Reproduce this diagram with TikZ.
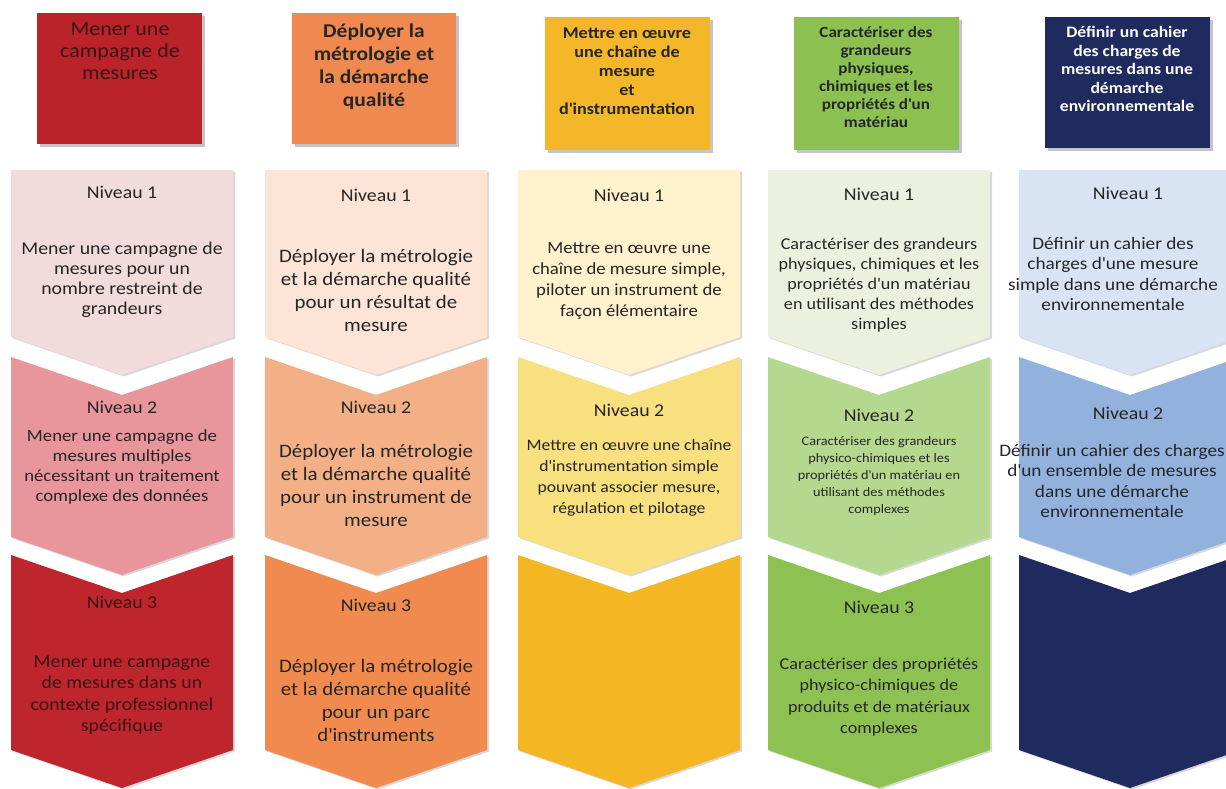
\documentclass[tikz,border=0pt]{standalone}
\usepackage{fontspec}
\setmainfont{Carlito}[FakeStretch=1.1]
\usetikzlibrary{shadows}

% column palettes: header, level 1, level 2, level 3
\definecolor{redH}{HTML}{B92329}
\definecolor{redA}{HTML}{F2DCDB}
\definecolor{redB}{HTML}{E8959B}
\definecolor{redC}{HTML}{BF252C}
\definecolor{orgH}{HTML}{F0894F}
\definecolor{orgA}{HTML}{FCE4D6}
\definecolor{orgB}{HTML}{F3AF85}
\definecolor{orgC}{HTML}{F08A4E}
\definecolor{yelH}{HTML}{F4B72A}
\definecolor{yelA}{HTML}{FFF2CC}
\definecolor{yelB}{HTML}{F9E07E}
\definecolor{yelC}{HTML}{F4B622}
\definecolor{grnH}{HTML}{8CC152}
\definecolor{grnA}{HTML}{EBF1DE}
\definecolor{grnB}{HTML}{B5D88F}
\definecolor{grnC}{HTML}{8DC253}
\definecolor{bluH}{HTML}{1F2A5E}
\definecolor{bluA}{HTML}{D8E3F3}
\definecolor{bluB}{HTML}{92B2DD}
\definecolor{bluC}{HTML}{1F2A5E}
\definecolor{ink}{HTML}{262626}
\definecolor{darkink}{HTML}{3A1416}

% straight apostrophe
\newcommand\ap{\textquotesingle}

% chevron with a flat top: left x, top y, bottom of the sides, colour
\newcommand\flatchevron[4]{%
  \fill[#4,block] (#1,#2) -- (#1+222,#2) -- (#1+222,#3) -- (#1+111,#3+38)
    -- (#1,#3) -- cycle;}
% chevron with a notched top
\newcommand\notchchevron[4]{%
  \fill[#4,block] (#1,#2) -- (#1+111,#2+38) -- (#1+222,#2) -- (#1+222,#3)
    -- (#1+111,#3+38) -- (#1,#3) -- cycle;}

\begin{document}
\begin{tikzpicture}[x=1pt,y=-1pt,
  header/.style={drop shadow={shadow xshift=3pt,shadow yshift=-3pt,opacity=.45}},
  block/.style={drop shadow={shadow xshift=2pt,shadow yshift=-1.5pt,opacity=.3}},
  lvl/.style={font=\fontsize{18}{20}\selectfont,text=ink,inner sep=0pt},
  body/.style={align=center,text=ink,inner sep=0pt},
  htext/.style={align=center,inner sep=0pt,font=\bfseries},
]
\fill[white] (0,0) rectangle (1226,789);
\useasboundingbox (0,0) rectangle (1226,789);
\clip (0,0) rectangle (1226,789);

% ---- headers
\fill[redH,header] (37,13) rectangle (202,144);
\fill[orgH,header] (292,13) rectangle (456,144);
\fill[yelH,header] (545,17) rectangle (710,150);
\fill[grnH,header] (794,17) rectangle (959,150);
\fill[bluH,header] (1045,17) rectangle (1210,148);

% ---- level blocks
\foreach \x/\a/\b/\c in {11/redA/redB/redC, 265/orgA/orgB/orgC,
    518/yelA/yelB/yelC, 768/grnA/grnB/grnC, 1019/bluA/bluB/bluC}{
  \flatchevron{\x}{170}{337}{\a}
  \notchchevron{\x}{357}{537}{\b}
  \notchchevron{\x}{555}{750}{\c}
}

% ---- column 1
\node[htext,font=\fontsize{20}{22}\selectfont,text=darkink] (h1) at (120,51)
  {Mener une\\campagne de\\mesures};
\node[lvl] (n11) at (122,192) {Niveau 1};
\node[body,font=\fontsize{18}{20}\selectfont] (t11) at (122,280)
  {Mener une campagne de\\mesures pour un\\nombre restreint de\\grandeurs};
\node[lvl] (n12) at (122,407) {Niveau 2};
\node[body,font=\fontsize{17}{20}\selectfont] (t12) at (122,467)
  {Mener une campagne de\\mesures multiples\\nécessitant un traitement\\complexe des données};
\node[lvl,text=darkink] (n13) at (122,602) {Niveau 3};
\node[body,font=\fontsize{18}{21.5}\selectfont,text=darkink] (t13) at (122,695)
  {Mener une campagne\\de mesures dans un\\contexte professionnel\\spécifique};

% ---- column 2
\node[htext,font=\bfseries\fontsize{19.5}{23}\selectfont,text=ink] (h2) at (374,67)
  {Déployer la\\métrologie et\\la démarche\\qualité};
\node[lvl] (n21) at (376,195) {Niveau 1};
\node[body,font=\fontsize{19}{23}\selectfont] (t21) at (376,290)
  {Déployer la métrologie\\et la démarche qualité\\pour un résultat de\\mesure};
\node[lvl] (n22) at (376,407) {Niveau 2};
\node[body,font=\fontsize{19}{23}\selectfont] (t22) at (376,485)
  {Déployer la métrologie\\et la démarche qualité\\pour un instrument de\\mesure};
\node[lvl] (n23) at (376,605) {Niveau 3};
\node[body,font=\fontsize{19}{23}\selectfont] (t23) at (376,700)
  {Déployer la métrologie\\et la démarche qualité\\pour un parc\\d\ap instruments};

% ---- column 3
\node[htext,font=\bfseries\fontsize{16.5}{19}\selectfont,text=ink] (h3) at (627,71)
  {Mettre en œuvre\\une chaîne de\\mesure\\et\\d\ap instrumentation};
\node[lvl] (n31) at (629,195) {Niveau 1};
\node[body,font=\fontsize{17}{21}\selectfont] (t31) at (629,281)
  {Mettre en œuvre une\\chaîne de mesure simple,\\piloter un instrument de\\façon élémentaire};
\node[lvl] (n32) at (629,410) {Niveau 2};
\node[body,font=\fontsize{16}{21}\selectfont] (t32) at (629,478)
  {Mettre en œuvre une chaîne\\d\ap instrumentation simple\\pouvant associer mesure,\\régulation et pilotage};

% ---- column 4
\node[htext,font=\bfseries\fontsize{15.5}{18}\selectfont,text=ink] (h4) at (876,77)
  {Caractériser des\\grandeurs\\physiques,\\chimiques et les\\propriétés d\ap un\\matériau};
\node[lvl] (n41) at (879,194) {Niveau 1};
\node[body,font=\fontsize{16.5}{20}\selectfont] (t41) at (879,285)
  {Caractériser des grandeurs\\physiques, chimiques et les\\propriétés d\ap un matériau\\en utilisant des méthodes\\simples};
\node[lvl] (n42) at (879,415) {Niveau 2};
\node[body,font=\fontsize{13}{17}\selectfont] (t42) at (879,476)
  {Caractériser des grandeurs\\physico-chimiques et les\\propriétés d\ap un matériau en\\utilisant des méthodes\\complexes};
\node[lvl] (n43) at (879,607) {Niveau 3};
\node[body,font=\fontsize{16.5}{21.5}\selectfont] (t43) at (879,697)
  {Caractériser des propriétés\\physico-chimiques de\\produits et de matériaux\\complexes};

% ---- column 5
\node[htext,font=\bfseries\fontsize{16}{18.5}\selectfont,text=white] (h5) at (1127,69)
  {Définir un cahier\\des charges de\\mesures dans une\\démarche\\environnementale};
\node[lvl] (n51) at (1128,193) {Niveau 1};
\node[body,font=\fontsize{17.5}{20.5}\selectfont] (t51) at (1113,274)
  {Définir un cahier des\\charges d\ap une mesure\\simple dans une démarche\\environnementale};
\node[lvl] (n52) at (1128,413) {Niveau 2};
\node[body,font=\fontsize{17.5}{20.5}\selectfont] (t52) at (1112,481)
  {Définir un cahier des charges\\d\ap un ensemble de mesures\\dans une démarche\\environnementale};
\end{tikzpicture}
\end{document}
